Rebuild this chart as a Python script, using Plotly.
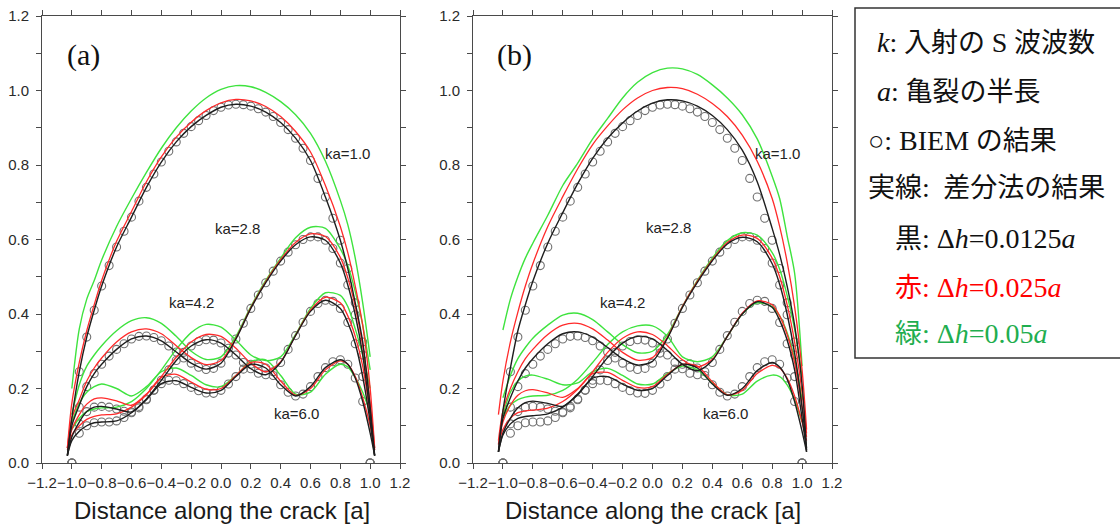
import plotly.graph_objects as go

W, H = 1120, 526

# ---------------------------------------------------------------------------
# BIEM reference solution, sampled every 0.05a along the crack
# ---------------------------------------------------------------------------
x_biem = [-1.0, -0.95, -0.9, -0.85, -0.8, -0.75, -0.7, -0.65, -0.6, -0.55,
          -0.5, -0.45, -0.4, -0.35, -0.3, -0.25, -0.2, -0.15, -0.1, -0.05,
          0.0, 0.05, 0.1, 0.15, 0.2, 0.25, 0.3, 0.35, 0.4, 0.45,
          0.5, 0.55, 0.6, 0.65, 0.7, 0.75, 0.8, 0.85, 0.9, 0.95, 1.0]

biem_ka10 = [0.000, 0.245, 0.338, 0.410, 0.475, 0.530, 0.580, 0.622, 0.660, 0.703,
             0.740, 0.776, 0.808, 0.837, 0.862, 0.885, 0.903, 0.919, 0.933, 0.946,
             0.955, 0.961, 0.963, 0.962, 0.958, 0.951, 0.942, 0.930, 0.914, 0.895,
             0.872, 0.845, 0.812, 0.764, 0.714, 0.657, 0.598, 0.522, 0.430, 0.325, 0.000]
biem_ka28 = [0.000, 0.150, 0.205, 0.240, 0.265, 0.287, 0.305, 0.320, 0.333, 0.340,
             0.341, 0.337, 0.328, 0.314, 0.298, 0.282, 0.268, 0.257, 0.251, 0.254,
             0.268, 0.295, 0.333, 0.375, 0.415, 0.451, 0.484, 0.515, 0.542, 0.566,
             0.586, 0.600, 0.607, 0.607, 0.598, 0.576, 0.537, 0.478, 0.398, 0.290, 0.000]
biem_ka42 = [0.000, 0.080, 0.100, 0.108, 0.110, 0.110, 0.113, 0.122, 0.135, 0.152,
             0.172, 0.196, 0.222, 0.250, 0.275, 0.297, 0.314, 0.326, 0.331, 0.330,
             0.322, 0.308, 0.290, 0.270, 0.253, 0.241, 0.237, 0.245, 0.270, 0.305,
             0.342, 0.378, 0.407, 0.428, 0.437, 0.434, 0.415, 0.377, 0.320, 0.232, 0.000]
biem_ka60 = [0.000, 0.105, 0.138, 0.150, 0.152, 0.150, 0.145, 0.139, 0.137, 0.148,
             0.170, 0.195, 0.213, 0.222, 0.221, 0.213, 0.203, 0.194, 0.188, 0.187,
             0.195, 0.212, 0.232, 0.252, 0.265, 0.266, 0.255, 0.235, 0.210, 0.190,
             0.180, 0.185, 0.205, 0.232, 0.256, 0.272, 0.277, 0.265, 0.228, 0.165, 0.000]

# ---------------------------------------------------------------------------
# Finite-difference results
#   black: dh = 0.0125a, red: dh = 0.025a  (sampled on x_fd)
#   green: dh = 0.05a                       (sampled on x_fd_coarse)
# ---------------------------------------------------------------------------
x_fd = [-1.03, -1.0, -0.95, -0.9, -0.85, -0.8, -0.7, -0.6, -0.5, -0.4, -0.3, -0.2, -0.1,
        0.0, 0.1, 0.2, 0.3, 0.4, 0.5, 0.6, 0.7, 0.8, 0.85, 0.9, 0.95, 1.0, 1.03]
x_fd_coarse = [-1.0, -0.95, -0.9, -0.85, -0.8, -0.7, -0.6, -0.5, -0.4, -0.3, -0.2, -0.1,
               0.0, 0.1, 0.2, 0.3, 0.4, 0.5, 0.6, 0.7, 0.8, 0.85, 0.9, 0.95, 1.0]

# panel (a)
a_ka10_black = [0.02, 0.12, 0.245, 0.338, 0.41, 0.475, 0.58, 0.66, 0.74, 0.808, 0.862, 0.903, 0.933,
                0.955, 0.963, 0.958, 0.942, 0.914, 0.872, 0.812, 0.714, 0.598, 0.522, 0.43, 0.325, 0.15, 0.02]
a_ka10_red = [0.04, 0.16, 0.27, 0.355, 0.425, 0.49, 0.595, 0.675, 0.755, 0.822, 0.875, 0.915, 0.946,
              0.967, 0.976, 0.972, 0.957, 0.93, 0.89, 0.835, 0.745, 0.635, 0.565, 0.475, 0.37, 0.2, 0.04]
a_ka10_green = [0.20, 0.36, 0.44, 0.49, 0.545, 0.635, 0.71, 0.78, 0.845, 0.90, 0.945, 0.98,
                1.003, 1.013, 1.01, 0.995, 0.97, 0.935, 0.885, 0.81, 0.705, 0.64, 0.55, 0.43, 0.285]

a_ka28_black = [0.02, 0.10, 0.155, 0.205, 0.24, 0.265, 0.305, 0.333, 0.341, 0.328, 0.298, 0.268, 0.252,
                0.268, 0.333, 0.415, 0.484, 0.542, 0.586, 0.607, 0.598, 0.537, 0.478, 0.398, 0.29, 0.13, 0.02]
a_ka28_red = [0.04, 0.12, 0.17, 0.22, 0.255, 0.282, 0.325, 0.352, 0.36, 0.347, 0.315, 0.283, 0.264,
              0.275, 0.335, 0.417, 0.487, 0.546, 0.592, 0.615, 0.608, 0.552, 0.497, 0.42, 0.315, 0.16, 0.04]
a_ka28_green = [0.13, 0.21, 0.26, 0.29, 0.315, 0.355, 0.382, 0.39, 0.375, 0.34, 0.30, 0.278,
                0.285, 0.34, 0.42, 0.49, 0.55, 0.605, 0.633, 0.63, 0.575, 0.53, 0.46, 0.37, 0.25]

a_ka42_black = [0.02, 0.06, 0.085, 0.1, 0.108, 0.11, 0.113, 0.135, 0.172, 0.222, 0.275, 0.314, 0.331,
                0.322, 0.29, 0.253, 0.237, 0.27, 0.342, 0.407, 0.437, 0.415, 0.377, 0.32, 0.232, 0.11, 0.02]
a_ka42_red = [0.035, 0.075, 0.1, 0.117, 0.125, 0.129, 0.132, 0.15, 0.183, 0.232, 0.284, 0.325, 0.345,
              0.34, 0.308, 0.268, 0.245, 0.272, 0.343, 0.41, 0.445, 0.43, 0.395, 0.34, 0.26, 0.13, 0.035]
a_ka42_green = [0.09, 0.12, 0.138, 0.145, 0.148, 0.15, 0.165, 0.2, 0.25, 0.305, 0.35, 0.372,
                0.365, 0.33, 0.29, 0.275, 0.285, 0.345, 0.415, 0.457, 0.45, 0.42, 0.36, 0.29, 0.2]

a_ka60_black = [0.02, 0.07, 0.11, 0.138, 0.15, 0.152, 0.145, 0.137, 0.17, 0.213, 0.221, 0.203, 0.188,
                0.195, 0.232, 0.265, 0.255, 0.21, 0.18, 0.205, 0.256, 0.277, 0.265, 0.228, 0.165, 0.08, 0.02]
a_ka60_red = [0.04, 0.09, 0.13, 0.158, 0.172, 0.175, 0.167, 0.155, 0.185, 0.23, 0.238, 0.217, 0.198,
              0.2, 0.235, 0.27, 0.265, 0.22, 0.182, 0.2, 0.25, 0.274, 0.265, 0.232, 0.175, 0.1, 0.035]
a_ka60_green = [0.11, 0.16, 0.19, 0.205, 0.212, 0.2, 0.18, 0.205, 0.245, 0.255, 0.235, 0.21,
                0.205, 0.235, 0.272, 0.277, 0.235, 0.185, 0.19, 0.238, 0.265, 0.258, 0.23, 0.19, 0.135]

# panel (b)
b_ka10_black = [0.03, 0.14, 0.255, 0.355, 0.425, 0.488, 0.59, 0.672, 0.75, 0.818, 0.872, 0.913, 0.945,
                0.966, 0.975, 0.972, 0.958, 0.933, 0.895, 0.84, 0.755, 0.63, 0.56, 0.475, 0.37, 0.21, 0.03]
b_ka10_red = [0.13, 0.22, 0.325, 0.405, 0.475, 0.535, 0.635, 0.715, 0.79, 0.855, 0.905, 0.948, 0.98,
              1.0, 1.008, 1.005, 0.99, 0.965, 0.93, 0.88, 0.81, 0.71, 0.635, 0.54, 0.42, 0.25, 0.09]
b_ka10_green = [0.357, 0.44, 0.5, 0.55, 0.59, 0.665, 0.745, 0.805, 0.87, 0.925, 0.98, 1.022,
                1.048, 1.06, 1.058, 1.043, 1.015, 0.98, 0.935, 0.87, 0.77, 0.71, 0.61, 0.51, 0.26]

b_ka28_black = [0.03, 0.12, 0.175, 0.22, 0.255, 0.28, 0.32, 0.347, 0.352, 0.338, 0.31, 0.28, 0.263,
                0.273, 0.335, 0.418, 0.485, 0.543, 0.588, 0.606, 0.594, 0.535, 0.48, 0.4, 0.295, 0.15, 0.04]
b_ka28_red = [0.06, 0.14, 0.2, 0.245, 0.28, 0.305, 0.345, 0.37, 0.375, 0.36, 0.33, 0.297, 0.276,
              0.283, 0.338, 0.42, 0.488, 0.546, 0.592, 0.612, 0.603, 0.55, 0.5, 0.425, 0.325, 0.19, 0.08]
b_ka28_green = [0.175, 0.235, 0.28, 0.31, 0.335, 0.37, 0.397, 0.402, 0.385, 0.352, 0.318, 0.296,
                0.3, 0.345, 0.42, 0.49, 0.55, 0.597, 0.618, 0.612, 0.565, 0.52, 0.45, 0.36, 0.23]

b_ka42_black = [0.03, 0.075, 0.105, 0.12, 0.125, 0.127, 0.132, 0.15, 0.183, 0.232, 0.283, 0.322, 0.34,
                0.333, 0.302, 0.265, 0.248, 0.275, 0.34, 0.4, 0.433, 0.418, 0.383, 0.33, 0.25, 0.12, 0.035]
b_ka42_red = [0.05, 0.09, 0.12, 0.135, 0.14, 0.142, 0.147, 0.165, 0.198, 0.245, 0.297, 0.335, 0.352,
              0.345, 0.315, 0.277, 0.258, 0.278, 0.34, 0.402, 0.435, 0.425, 0.395, 0.345, 0.27, 0.15, 0.07]
b_ka42_green = [0.12, 0.155, 0.17, 0.177, 0.18, 0.182, 0.195, 0.225, 0.27, 0.318, 0.352, 0.368,
                0.368, 0.34, 0.285, 0.272, 0.285, 0.34, 0.4, 0.43, 0.42, 0.395, 0.35, 0.28, 0.17]

b_ka60_black = [0.03, 0.08, 0.12, 0.148, 0.162, 0.166, 0.16, 0.152, 0.185, 0.228, 0.232, 0.212, 0.195,
                0.2, 0.235, 0.265, 0.255, 0.212, 0.182, 0.2, 0.248, 0.27, 0.258, 0.225, 0.165, 0.085, 0.03]
b_ka60_red = [0.05, 0.11, 0.155, 0.182, 0.194, 0.197, 0.188, 0.176, 0.2, 0.24, 0.243, 0.222, 0.203,
              0.205, 0.238, 0.265, 0.26, 0.218, 0.183, 0.195, 0.24, 0.262, 0.255, 0.228, 0.18, 0.11, 0.06]
b_ka60_green = [0.13, 0.19, 0.22, 0.233, 0.236, 0.225, 0.21, 0.215, 0.245, 0.254, 0.235, 0.212,
                0.212, 0.24, 0.26, 0.25, 0.215, 0.183, 0.185, 0.22, 0.236, 0.232, 0.21, 0.17, 0.11]

ka_labels = ["ka=1.0", "ka=2.8", "ka=4.2", "ka=6.0"]
# label anchor points (data coordinates) for each panel
label_x_a = [0.848, 0.11, -0.20, 0.503]
label_y_a = [0.830, 0.630, 0.431, 0.132]
label_x_b = [0.836, 0.107, -0.20, 0.488]
label_y_b = [0.832, 0.632, 0.431, 0.132]

biem_sets = [biem_ka10, biem_ka28, biem_ka42, biem_ka60]
panel_a = [(a_ka10_black, a_ka10_red, a_ka10_green),
           (a_ka28_black, a_ka28_red, a_ka28_green),
           (a_ka42_black, a_ka42_red, a_ka42_green),
           (a_ka60_black, a_ka60_red, a_ka60_green)]
panel_b = [(b_ka10_black, b_ka10_red, b_ka10_green),
           (b_ka28_black, b_ka28_red, b_ka28_green),
           (b_ka42_black, b_ka42_red, b_ka42_green),
           (b_ka60_black, b_ka60_red, b_ka60_green)]

C_BLACK = "#1e1e1e"
C_RED = "#ff2a2a"
C_GREEN = "#3ee33e"
C_CIRCLE = "#707070"

fig = go.Figure()

for xa, ya, sets in [("x", "y", panel_a), ("x2", "y2", panel_b)]:
    # BIEM circles
    for vals in biem_sets:
        fig.add_trace(go.Scatter(
            x=x_biem, y=vals, xaxis=xa, yaxis=ya, mode="markers",
            marker=dict(symbol="circle-open", size=8, color=C_CIRCLE,
                        line=dict(width=1.1, color=C_CIRCLE)),
            showlegend=False, hoverinfo="skip"))
    # finite-difference curves, coarse grid first so the fine grid sits on top
    for black, red, green in sets:
        fig.add_trace(go.Scatter(
            x=x_fd_coarse, y=green, xaxis=xa, yaxis=ya, mode="lines",
            line=dict(color=C_GREEN, width=1.4, shape="spline", smoothing=0.8),
            showlegend=False, hoverinfo="skip"))
    for black, red, green in sets:
        fig.add_trace(go.Scatter(
            x=x_fd, y=red, xaxis=xa, yaxis=ya, mode="lines",
            line=dict(color=C_RED, width=1.3, shape="spline", smoothing=0.8),
            showlegend=False, hoverinfo="skip"))
    for black, red, green in sets:
        fig.add_trace(go.Scatter(
            x=x_fd, y=black, xaxis=xa, yaxis=ya, mode="lines",
            line=dict(color=C_BLACK, width=1.4, shape="spline", smoothing=0.8),
            showlegend=False, hoverinfo="skip"))


def px_x(p):
    return p / W


def px_y(p):
    return 1 - p / H


axis_common = dict(
    automargin=False,
    showline=True, linecolor="#4a4a4a", linewidth=1, mirror="ticks",
    ticks="outside", ticklen=5, tickwidth=1, tickcolor="#4a4a4a",
    showgrid=False, zeroline=False,
    tickfont=dict(family="Liberation Sans, Arial, sans-serif", size=15, color="#2a2a2a"),
    tickformat=".1f",
)

y_dom = [px_y(463), px_y(16)]
fig.update_layout(
    template="none",
    width=W, height=H,
    margin=dict(l=0, r=0, t=0, b=0, pad=0),
    paper_bgcolor="white", plot_bgcolor="white",
    showlegend=False,
    xaxis=dict(domain=[px_x(42), px_x(400)], range=[-1.2, 1.2], dtick=0.2, tick0=0,
               tickangle=0, anchor="y", ticklabelstandoff=1, **axis_common),
    yaxis=dict(domain=y_dom, range=[0, 1.2], dtick=0.2, tick0=0, anchor="x",
               ticklabelstandoff=4,
               minor=dict(dtick=0.1, ticks="outside", ticklen=5, tickcolor="#4a4a4a"),
               **axis_common),
    xaxis2=dict(domain=[px_x(473), px_x(832)], range=[-1.2, 1.2], dtick=0.2, tick0=0,
                tickangle=0, anchor="y2", ticklabelstandoff=1, **axis_common),
    yaxis2=dict(domain=y_dom, range=[0, 1.2], dtick=0.2, tick0=0, anchor="x2",
                ticklabelstandoff=4,
                minor=dict(dtick=0.1, ticks="outside", ticklen=5, tickcolor="#4a4a4a"),
                **axis_common),
)

annotations = []
label_font = dict(family="Liberation Sans, Arial, sans-serif", size=15, color="#222222")
for xr, yr, lx, ly in [("x", "y", label_x_a, label_y_a), ("x2", "y2", label_x_b, label_y_b)]:
    for text, px_, py_ in zip(ka_labels, lx, ly):
        annotations.append(dict(x=px_, y=py_, xref=xr, yref=yr, text=text, showarrow=False,
                                xanchor="center", yanchor="middle", font=label_font))

# panel tags
tag_font = dict(family="Liberation Serif, Times New Roman, serif", size=30, color="#111111")
annotations.append(dict(x=px_x(83), y=px_y(55), xref="paper", yref="paper", text="(a)",
                        showarrow=False, xanchor="center", yanchor="middle", font=tag_font))
annotations.append(dict(x=px_x(514), y=px_y(55), xref="paper", yref="paper", text="(b)",
                        showarrow=False, xanchor="center", yanchor="middle", font=tag_font))

# axis titles
title_font = dict(family="Liberation Sans, Arial, sans-serif", size=24, color="#1a1a1a")
for cx in (222, 653):
    annotations.append(dict(x=px_x(cx), y=px_y(510), xref="paper", yref="paper",
                            text="Distance along the crack [a]", showarrow=False,
                            xanchor="center", yanchor="middle", font=title_font))


def lat(s):
    # Latin parts of the key are set in the serif face at a slightly larger size
    return '<span style="font-size:28px">' + s + "</span>"


# explanatory key on the right
key_family = "Liberation Serif, Times New Roman, Noto Sans CJK JP, serif"
key_lines = [
    (875, 43, lat("<i>k</i>:") + "\u00a0入射の " + lat("S") + " 波波数", "#111111"),
    (875, 92, lat("<i>a</i>:") + "\u00a0亀裂の半長", "#111111"),
    (866, 140, "○" + lat(": BIEM") + " の結果", "#111111"),
    (866, 188, "実線" + lat(":") + "\u00a0\u00a0差分法の結果", "#111111"),
    (893, 238, "黒" + lat(": Δ<i>h</i>=0.0125<i>a</i>"), "#111111"),
    (893, 287, "赤" + lat(": Δ<i>h</i>=0.025<i>a</i>"), "#ff0000"),
    (893, 333, "緑" + lat(": Δ<i>h</i>=0.05<i>a</i>"), "#1fae4f"),
]
for kx, ky, text, col in key_lines:
    annotations.append(dict(x=px_x(kx), y=px_y(ky), xref="paper", yref="paper", text=text,
                            showarrow=False, xanchor="left", yanchor="middle",
                            font=dict(family=key_family, size=27, color=col)))

fig.update_layout(annotations=annotations)

fig.add_shape(type="rect", xref="paper", yref="paper",
              x0=px_x(855), x1=px_x(1135), y0=px_y(358), y1=px_y(8),
              line=dict(color="#333333", width=1.5), fillcolor="rgba(0,0,0,0)")

fig.write_html("out.html")
